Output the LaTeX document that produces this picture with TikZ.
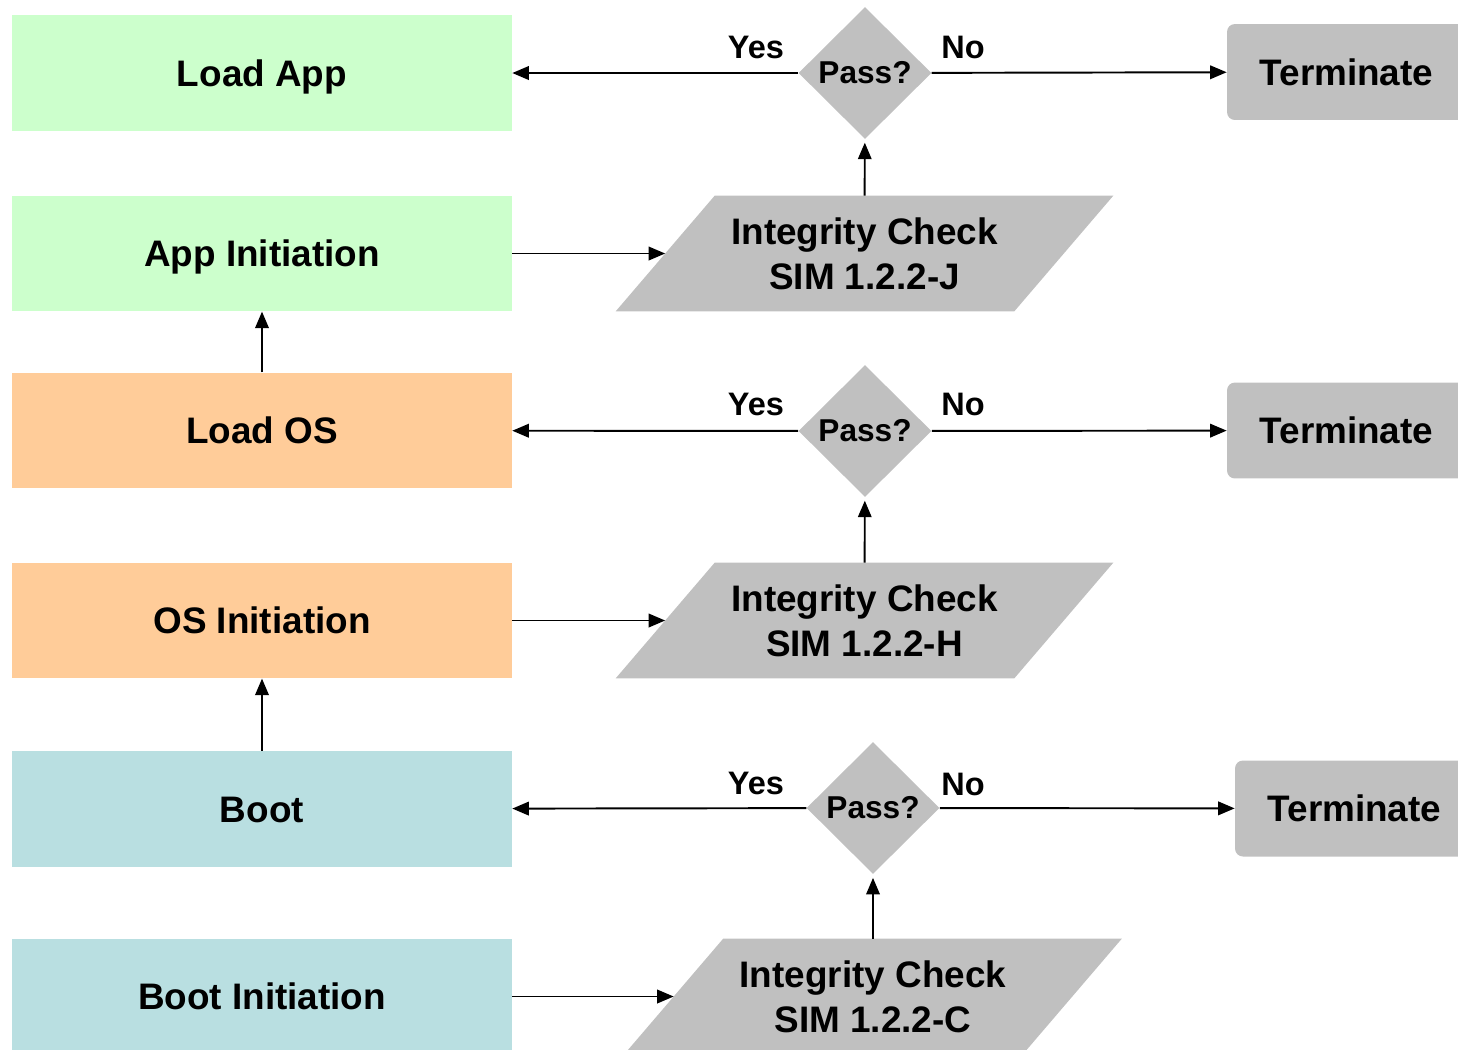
\documentclass[tikz,border=0pt]{standalone}
\usepackage{fontspec}
\setmainfont{Liberation Sans}
\usetikzlibrary{shapes.geometric,arrows.meta,calc,backgrounds}
\definecolor{appgreen}{HTML}{CCFFCC}
\definecolor{osorange}{HTML}{FFCC99}
\definecolor{bootteal}{HTML}{B9DFE1}
\definecolor{checkgray}{HTML}{C0C0C0}
\tikzset{
  stage/.style={rectangle, minimum width=10cm, minimum height=2.31cm, inner sep=0pt,
    text height=15.1pt, text depth=0pt, font=\fontsize{21}{25.5}\selectfont\bfseries},
  check/.style={rectangle, minimum width=7.96cm, minimum height=2.3cm, inner sep=0pt,
    align=center, font=\fontsize{21}{25.5}\selectfont\bfseries},
  pass/.style={diamond, fill=checkgray, minimum width=2.66cm, minimum height=2.64cm,
    inner sep=0pt, font=\fontsize{18}{20}\selectfont\bfseries},
  stopbox/.style={rectangle, rounded corners=4.5pt, fill=checkgray, minimum width=4.78cm,
    minimum height=1.92cm, inner sep=0pt, text height=15.1pt, text depth=0pt,
    font=\fontsize{21}{25.5}\selectfont\bfseries},
  answer/.style={font=\fontsize{18.5}{20}\selectfont\bfseries},
  flow/.style={->, line width=1.1pt}
}
\begin{document}
\begin{tikzpicture}[x=0.02cm, y=-0.02cm, >={Triangle[length=0.33cm,width=0.27cm]}]
  \useasboundingbox (0,0) rectangle (1458,1049);
  % left column
  \node[stage, fill=appgreen] (loadapp) at (262,73) {Load App};
  \node[stage, fill=appgreen] (appinit) at (262,253.5) {App Initiation};
  \node[stage, fill=osorange] (loados) at (262,430.5) {Load OS};
  \node[stage, fill=osorange] (osinit) at (262,620.5) {OS Initiation};
  \node[stage, fill=bootteal] (boot) at (262,809) {Boot};
  \node[stage, fill=bootteal] (bootinit) at (262,996.5) {Boot Initiation};

  % integrity checks (parallelograms filled behind)
  \node[check] (chkJ) at (864.5,253.5) {Integrity Check\\SIM 1.2.2-J};
  \node[check] (chkH) at (864.5,620.5) {Integrity Check\\SIM 1.2.2-H};
  \node[check] (chkC) at (873,996.5) {Integrity Check\\SIM 1.2.2-C};
  \begin{scope}[on background layer]
    \foreach \c in {chkJ,chkH,chkC}
      \fill[checkgray] ($(\c.south west)+(-49.5,0)$) -- ($(\c.south east)+(-49.5,0)$)
        -- ($(\c.north east)+(49.5,0)$) -- ($(\c.north west)+(49.5,0)$) -- cycle;
  \end{scope}

  % decisions
  \node[pass] (passJ) at (865,73) {Pass?};
  \node[pass] (passH) at (865,431) {Pass?};
  \node[pass] (passC) at (873,808) {Pass?};

  \node[stopbox] (stopJ) at (1346.5,72) {Terminate};
  \node[stopbox] (stopH) at (1346.5,430.5) {Terminate};
  \node[stopbox] (stopC) at (1354.5,808.5) {Terminate};

  \node[answer] at (756,47) {Yes};
  \node[answer] at (963,47) {No};
  \node[answer] at (756,404) {Yes};
  \node[answer] at (963,404) {No};
  \node[answer] at (756,783) {Yes};
  \node[answer] at (963,784) {No};

  % connectors
  \draw[flow] (appinit) -- (chkJ);
  \draw[flow] (osinit) -- (chkH);
  \draw[flow] (bootinit) -- (chkC);
  \draw[flow, shorten >=2pt] (chkJ) -- (passJ);
  \draw[flow, shorten >=2pt] (chkH) -- (passH);
  \draw[flow, shorten >=2pt] (chkC) -- (passC);
  \draw[flow] (passJ) -- (loadapp);
  \draw[flow] (passH) -- (loados);
  \draw[flow] (passC) -- (boot);
  \draw[flow] (passJ) -- (stopJ);
  \draw[flow] (passH) -- (stopH);
  \draw[flow] (passC) -- (stopC);
  \draw[flow] (loados) -- (appinit);
  \draw[flow] (boot) -- (osinit);
\end{tikzpicture}
\end{document}
